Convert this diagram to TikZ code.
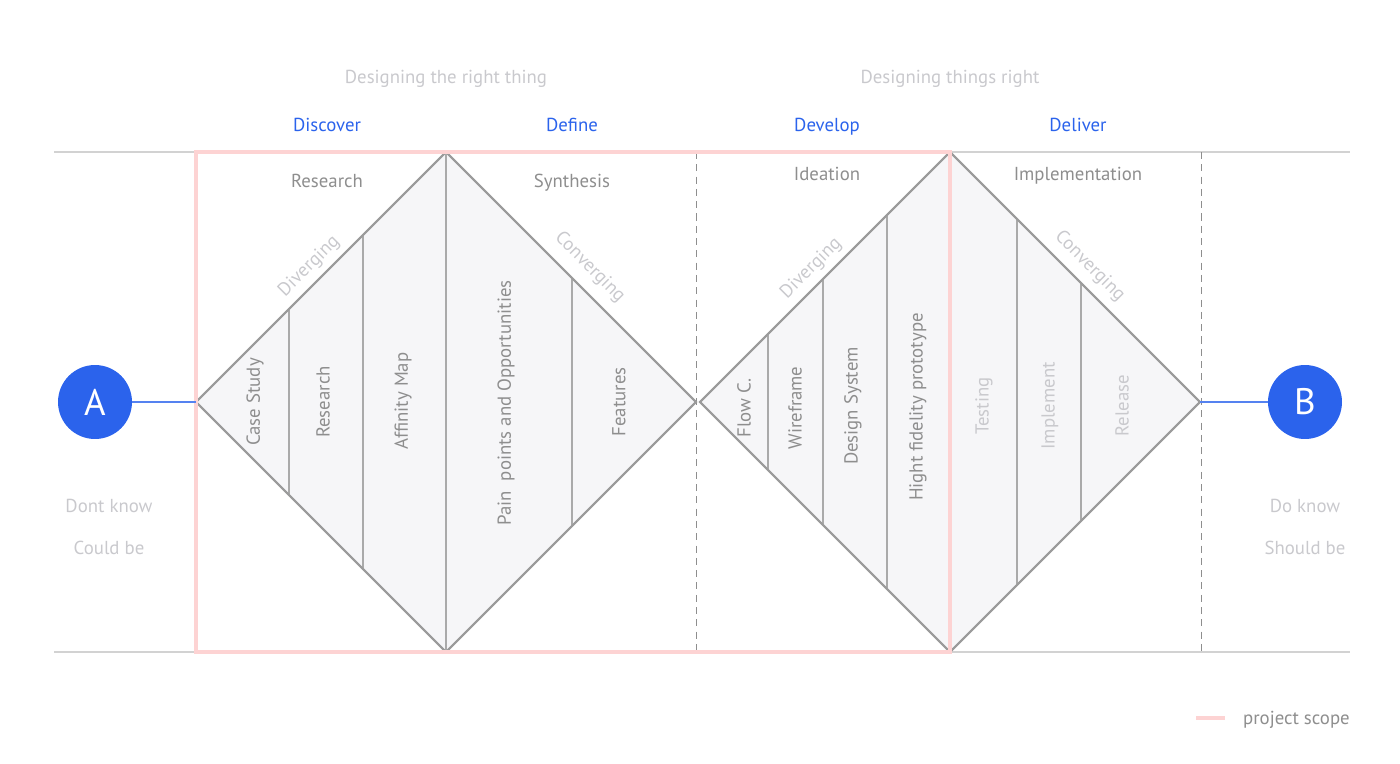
\documentclass[tikz,border=0pt]{standalone}
\usepackage{fontspec}
\setmainfont{PT Sans}
\usetikzlibrary{positioning,shapes.geometric}

\definecolor{ddblue}{HTML}{2B63EC}
\definecolor{ddgray}{HTML}{8E8E8E}
\definecolor{ddlight}{HTML}{C9C9CD}
\definecolor{ddline}{HTML}{9B9B9B}
\definecolor{ddfill}{HTML}{F6F6F8}
\definecolor{ddpink}{HTML}{FDD3D3}
\definecolor{ddrule}{HTML}{D2D2D2}

\begin{document}
\begin{tikzpicture}[
  x=0.02cm, y=-0.02cm,
  every node/.style={font=\fontsize{10.7}{12}\selectfont, inner sep=1pt},
  label text/.style={text height=7.5pt, text depth=0pt},
  phase/.style={label text, text=ddblue},
  activity/.style={label text, text=ddgray},
  faint/.style={label text, text=ddlight},
  task/.style={text=ddgray, rotate=90},
  fainttask/.style={text=ddlight, rotate=90},
  dia/.style={diamond, draw=ddline, line width=1.1pt, fill=ddfill,
    minimum width=10cm, minimum height=10cm, inner sep=0pt, outer sep=0pt},
  divider/.style={draw=ddline!85, line width=0.8pt},
  endpoint/.style={circle, fill=ddblue, text=white, minimum size=1.48cm,
    inner sep=0pt, font=\fontsize{21}{24}\selectfont},
  link/.style={draw=ddblue!80, line width=0.7pt},
  rule/.style={draw=ddrule, line width=1.1pt},
  guide/.style={draw=ddgray, line width=0.55pt, dash pattern=on 4pt off 3pt},
  scopebox/.style={draw=ddpink, line width=2.3pt}
]
\useasboundingbox (0,0) rectangle (1400,764);

% frame lines
\draw[rule] (54,152) -- (1350,152);
\draw[rule] (54,652) -- (1350,652);
\draw[guide] (696,152) -- (696,652);
\draw[guide] (1201,152) -- (1201,652);

% the two diamonds
\node[dia] (d1) at (446,402) {};
\node[dia] (d2) at (950,402) {};
\begin{scope}
  \clip (d1.west) -- (d1.north) -- (d1.east) -- (d1.south) -- cycle;
  \foreach \x in {289,363,446,572}
    \draw[divider] (\x,152) -- (\x,652);
\end{scope}
\begin{scope}
  \clip (d2.west) -- (d2.north) -- (d2.east) -- (d2.south) -- cycle;
  \foreach \x in {768,823,887,1017,1081}
    \draw[divider] (\x,152) -- (\x,652);
\end{scope}
\draw[draw=ddline, line width=1.1pt] (d1.west) -- (d1.north) -- (d1.east) -- (d1.south) -- cycle;
\draw[draw=ddline, line width=1.1pt] (d2.west) -- (d2.north) -- (d2.east) -- (d2.south) -- cycle;

% project scope
\draw[scopebox] (196,152) rectangle (950,652);

% start and end
\node[endpoint] (A) at (95,402) {A};
\node[endpoint] (B) at (1305,402) {B};
\draw[link] (A) -- (d1.west);
\draw[link] (d2.east) -- (B);

% headings
\node[faint] (rightthing) at (446,77) {Designing the right thing};
\node[faint] (thingsright) at (950,77) {Designing things right};
\node[phase] (discover) at (327,125) {Discover};
\node[phase] (define) at (572,125) {Define};
\node[phase] (develop) at (827,125) {Develop};
\node[phase] (deliver) at (1078,125) {Deliver};
\node[activity] (research) at (327,181) {Research};
\node[activity] (synthesis) at (572,181) {Synthesis};
\node[activity] (ideation) at (827,174) {Ideation};
\node[activity] (implementation) at (1078,174) {Implementation};

\node[faint, rotate=45] (div1) at (308,265) {Diverging};
\node[faint, rotate=-45] (conv1) at (591,266) {Converging};
\node[faint, rotate=45] (div2) at (810,267) {Diverging};
\node[faint, rotate=-45] (conv2) at (1091,265) {Converging};

% tasks
\node[task] (casestudy) at (255,402) {Case Study};
\node[task] (userresearch) at (323,402) {Research};
\node[task] (affinity) at (403,401) {Affinity Map};
\node[task] (painpoints) at (506,403) {Pain~ points and Opportunities};
\node[task] (features) at (619,402) {Features};
\node[task] (flow) at (744,408) {Flow C.};
\node[task] (wireframe) at (795,408) {Wireframe};
\node[task] (designsystem) at (853,406) {Design System};
\node[task] (prototype) at (918,407) {Hight fidelity prototype};
\node[fainttask] (testing) at (984,406) {Testing};
\node[fainttask] (implement) at (1050,406) {Implement};
\node[fainttask] (release) at (1122,406) {Release};

% states
\node[faint] (dontknow) at (109,506) {Dont know};
\node[faint] (couldbe) at (109,548) {Could be};
\node[faint] (doknow) at (1305,506) {Do know};
\node[faint] (shouldbe) at (1305,548) {Should be};

% legend
\coordinate (legend) at (1196,718);
\draw[scopebox] (legend) -- ++(29,0);
\node[activity, anchor=west] (scopetext) at (1241,718) {project scope};
\end{tikzpicture}
\end{document}
